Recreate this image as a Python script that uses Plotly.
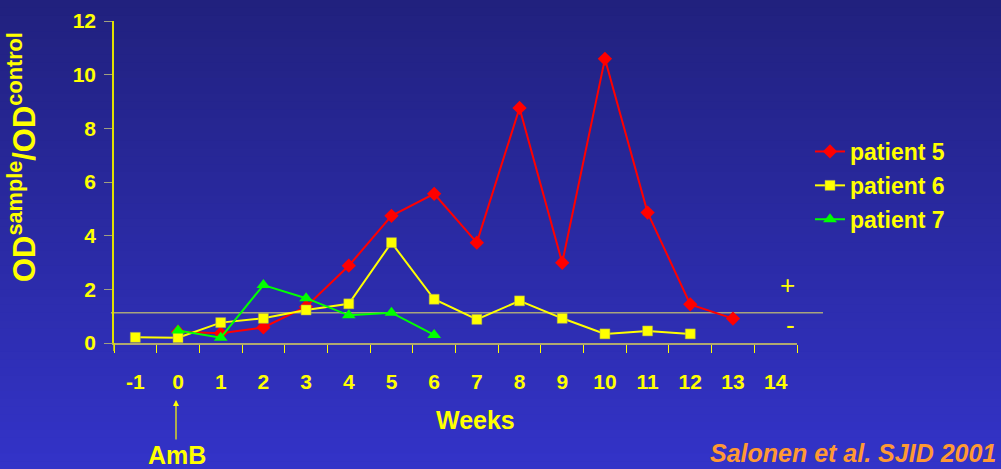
import plotly.graph_objects as go

weeks = [str(w) for w in range(-1, 15)]

p5_weeks = ["0", "1", "2", "3", "4", "5", "6", "7", "8", "9", "10", "11", "12", "13"]
p5_vals = [0.42, 0.36, 0.58, 1.35, 2.88, 4.74, 5.56, 3.74, 8.76, 2.99, 10.59, 4.86, 1.44, 0.91]

p6_weeks = ["-1", "0", "1", "2", "3", "4", "5", "6", "7", "8", "9", "10", "11", "12"]
p6_vals = [0.21, 0.2, 0.76, 0.92, 1.23, 1.46, 3.74, 1.63, 0.88, 1.57, 0.92, 0.34, 0.45, 0.34]

p7_weeks = ["0", "1", "2", "3", "4", "5", "6"]
p7_vals = [0.47, 0.2, 2.16, 1.67, 1.03, 1.13, 0.3]

cutoff = 1.13

W, H = 1001, 469
L, R, T, B = 114, 204, 21, 126
pw, ph = W - L - R, H - T - B

def px_to_paper_x(p):
    return (p - L) / pw

def px_to_paper_y(p):
    return (H - B - p) / ph

FONT = "Liberation Sans, Arial, sans-serif"
YEL = "#ffff00"

fig = go.Figure()
fig.add_trace(go.Scatter(x=p5_weeks, y=p5_vals, name="<b>patient 5</b>", mode="lines+markers",
                         line=dict(color="#ff0000", width=2),
                         marker=dict(symbol="diamond", size=11, color="#ff0000"),
                         legendgroup="a"))
fig.add_trace(go.Scatter(x=p6_weeks, y=p6_vals, name="<b>patient 6</b>", mode="lines+markers",
                         line=dict(color="#ffff00", width=2),
                         marker=dict(symbol="square", size=10, color="#ffff00",
                                     line=dict(color="#a0a060", width=0.5)),
                         legendgroup="b"))
fig.add_trace(go.Scatter(x=p7_weeks, y=p7_vals, name="<b>patient 7</b>", mode="lines+markers",
                         line=dict(color="#00ff00", width=2),
                         marker=dict(symbol="triangle-up", size=12, color="#00ff00"),
                         legendgroup="c"))

# background gradient
shapes = []
n = 60
top = (33, 33, 126)
bot = (51, 51, 200)
y_top = px_to_paper_y(0)
y_bot = px_to_paper_y(H)
for i in range(n):
    f = i / (n - 1)
    c = tuple(int(round(top[k] + (bot[k] - top[k]) * f)) for k in range(3))
    y1 = y_top + (y_bot - y_top) * i / n
    y0 = y_top + (y_bot - y_top) * (i + 1) / n
    shapes.append(dict(type="rect", xref="paper", yref="paper",
                       x0=px_to_paper_x(0), x1=px_to_paper_x(W), y0=y0 - 0.002, y1=y1,
                       fillcolor="rgb(%d,%d,%d)" % c, line=dict(width=0), layer="below"))

# cutoff line
shapes.append(dict(type="line", xref="paper", yref="y",
                   x0=px_to_paper_x(111), x1=px_to_paper_x(823), y0=cutoff, y1=cutoff,
                   line=dict(color="#a8a47c", width=1.5), layer="below"))
# y-axis line stub below the x axis
shapes.append(dict(type="line", xref="paper", yref="paper",
                   x0=0, x1=0, y0=0, y1=px_to_paper_y(351),
                   line=dict(color="#e0e000", width=1.5)))

def ann(text, xp, yp, size, color=YEL, xanchor="center", **kw):
    return dict(text=text, xref="paper", yref="paper",
                x=px_to_paper_x(xp), y=px_to_paper_y(yp),
                xanchor=xanchor, yanchor="middle", showarrow=False,
                font=dict(family=FONT, size=size, color=color), **kw)

annotations = [
    ann("<b>OD<sup>sample</sup>/OD<sup>control</sup></b>", 22, 157, 31, textangle=-90),
    ann("<b>Weeks</b>", 475, 420, 25),
    ann("<b>AmB</b>", 177, 455, 25),
    dict(text="", xref="paper", yref="paper", axref="pixel", ayref="pixel",
         x=px_to_paper_x(176), y=px_to_paper_y(400), ax=0, ay=41,
         showarrow=True, arrowhead=2, arrowsize=1, arrowwidth=1.2, arrowcolor=YEL),
    ann("<b><i>Salonen et al. SJID 2001</i></b>", 998, 453, 25, color="#ff9933",
        xanchor="right"),
    ann("+", 787, 285, 26),
    ann("-", 790, 325, 26),
]

fig.update_layout(
    width=W, height=H,
    margin=dict(l=L, r=R, t=T, b=B, pad=0, autoexpand=False),
    paper_bgcolor="#2a2aa0", plot_bgcolor="rgba(0,0,0,0)",
    shapes=shapes, annotations=annotations,
    showlegend=True,
    legend=dict(x=px_to_paper_x(810), y=px_to_paper_y(130), xanchor="left", yanchor="top",
                bgcolor="rgba(0,0,0,0)", font=dict(family=FONT, size=23, color=YEL),
                tracegroupgap=1, itemwidth=30),
    xaxis=dict(type="category", categoryorder="array", categoryarray=weeks,
               range=[-0.5, 15.5], tickson="boundaries", ticks="outside", ticklen=8,
               tickcolor=YEL, showline=True, linecolor="#b0a870", linewidth=1.5,
               showgrid=False, zeroline=False, tickangle=0, automargin=False,
               tickfont=dict(family=FONT, size=21, color=YEL),
               ticklabelstandoff=19,
               tickprefix="<b>", ticksuffix="</b>"),
    yaxis=dict(range=[0, 12], dtick=2, ticks="outside", ticklen=8, tickcolor="#a0a080",
               showline=True, linecolor="#e0e000", linewidth=1.5, showgrid=False,
               zeroline=False, automargin=False,
               tickfont=dict(family=FONT, size=21, color=YEL),
               ticklabelstandoff=4,
               tickprefix="<b>", ticksuffix="</b>"),
)

fig.write_html("out.html", config=dict(displayModeBar=False),
               post_script="document.body.style.margin='0';document.body.style.overflow='hidden';")
